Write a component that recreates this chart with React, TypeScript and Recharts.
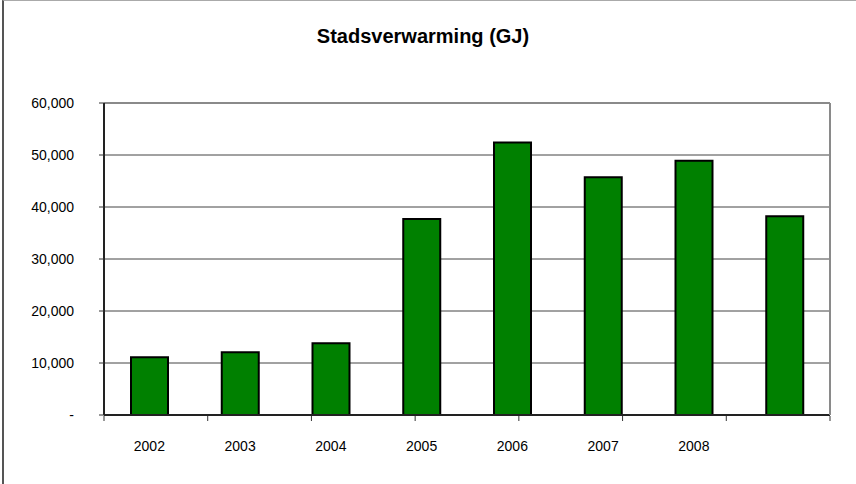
import React from 'react';
import { BarChart, Bar, XAxis, YAxis, CartesianGrid } from 'recharts';

const years = ['2002', '2003', '2004', '2005', '2006', '2007', '2008', ''];
const heatGJ = [11100, 12050, 13800, 37700, 52400, 45700, 48900, 38200];
const yTicks = [0, 10000, 20000, 30000, 40000, 50000, 60000];
const edgeTicks = [0, 1, 2, 3, 4, 5, 6, 7, 8];

const data = years.map((year, i) => ({ year, key: i, value: heatGJ[i] }));

const font = '"Liberation Sans", Arial, sans-serif';

function formatY(v: number) {
  return v === 0 ? '-' : v.toLocaleString('en-US');
}

export default function App() {
  return (
    <div style={{ position: 'absolute', left: 0, top: 0, width: 856, height: 484, background: '#fff', fontFamily: font }}>
      <div
        style={{
          position: 'absolute',
          left: 2,
          top: 0,
          width: 854,
          height: 484,
          borderLeft: '2px solid #555',
          borderTop: '1px solid #aaa',
          boxSizing: 'border-box',
        }}
      />
      <div
        style={{
          position: 'absolute',
          left: 0,
          top: 25,
          width: 846,
          textAlign: 'center',
          fontSize: 20,
          fontWeight: 'bold',
          lineHeight: '22px',
          color: '#000',
        }}
      >
        Stadsverwarming (GJ)
      </div>
      <BarChart
        width={856}
        height={484}
        data={data}
        margin={{ top: 102, right: 25, bottom: 38, left: 44 }}
        style={{ position: 'absolute', left: 0, top: 0 }}
      >
        <CartesianGrid xAxisId="cat" vertical={false} stroke="#444" strokeWidth={1} />
        <XAxis
          xAxisId="cat"
          dataKey="key"
          height={1}
          tickSize={0}
          tickMargin={26}
          tickLine={false}
          axisLine={{ stroke: '#222', strokeWidth: 2 }}
          tickFormatter={(i: number) => years[i]}
          tick={{ fill: '#000', fontSize: 14, fontFamily: font }}
          interval={0}
        />
        <XAxis
          xAxisId="edges"
          type="number"
          domain={[0, 8]}
          ticks={edgeTicks}
          height={30}
          tickSize={5}
          tickFormatter={() => ''}
          axisLine={false}
          tickLine={{ stroke: '#333', strokeWidth: 1 }}
          interval={0}
        />
        <XAxis
          xAxisId="top"
          orientation="top"
          type="number"
          domain={[0, 8]}
          height={1}
          tick={false}
          tickLine={false}
          axisLine={{ stroke: '#8a8a8a', strokeWidth: 2 }}
        />
        <YAxis
          domain={[0, 60000]}
          ticks={yTicks}
          width={60}
          tickSize={5}
          tickMargin={25}
          tickFormatter={formatY}
          axisLine={{ stroke: '#222', strokeWidth: 2 }}
          tickLine={{ stroke: '#333', strokeWidth: 1 }}
          tick={{ fill: '#000', fontSize: 14, fontFamily: font }}
          interval={0}
        />
        <YAxis
          yAxisId="right"
          orientation="right"
          domain={[0, 60000]}
          width={1}
          tick={false}
          tickLine={false}
          axisLine={{ stroke: '#8a8a8a', strokeWidth: 2 }}
        />
        <Bar
          xAxisId="cat"
          dataKey="value"
          fill="#008000"
          stroke="#000"
          strokeWidth={2}
          barSize={37}
          isAnimationActive={false}
        />
      </BarChart>
    </div>
  );
}
